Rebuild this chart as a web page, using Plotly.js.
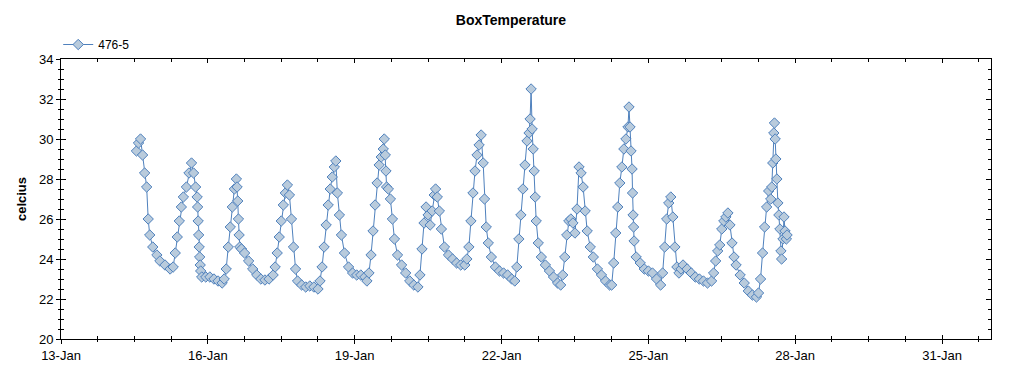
<!DOCTYPE html>
<html>
<head>
<meta charset="utf-8">
<script src="https://cdn.plot.ly/plotly-3.0.1.min.js"></script>
<style>
html,body{margin:0;padding:0;background:#fff;}
#chart{width:1024px;height:375px;}
</style>
</head>
<body>
<div id="chart"></div>
<script>
var seriesName = '476-5';
var chartTitle = 'BoxTemperature';
var yTitle = 'celcius';

var times = [
'2015-01-14 13:00','2015-01-14 14:00','2015-01-14 15:00','2015-01-14 16:00','2015-01-14 17:00','2015-01-14 18:00',
'2015-01-14 18:45','2015-01-14 19:30','2015-01-14 21:00','2015-01-14 23:00','2015-01-15 00:30','2015-01-15 03:00',
'2015-01-15 05:30','2015-01-15 07:00','2015-01-15 08:00','2015-01-15 09:00','2015-01-15 10:00','2015-01-15 11:00',
'2015-01-15 12:00','2015-01-15 13:30','2015-01-15 14:45','2015-01-15 16:00','2015-01-15 17:00','2015-01-15 18:00',
'2015-01-15 18:45','2015-01-15 19:00','2015-01-15 19:15','2015-01-15 19:30','2015-01-15 19:45','2015-01-15 20:00',
'2015-01-15 20:15','2015-01-15 20:30','2015-01-15 21:00','2015-01-15 23:00','2015-01-16 01:00','2015-01-16 03:00',
'2015-01-16 05:00','2015-01-16 07:00','2015-01-16 08:00','2015-01-16 09:00','2015-01-16 10:00','2015-01-16 11:00',
'2015-01-16 12:00','2015-01-16 13:00','2015-01-16 14:00','2015-01-16 14:20','2015-01-16 14:40','2015-01-16 15:00',
'2015-01-16 15:20','2015-01-16 15:40','2015-01-16 16:30','2015-01-16 18:00','2015-01-16 20:00','2015-01-16 22:00',
'2015-01-17 00:00','2015-01-17 02:00','2015-01-17 04:00','2015-01-17 06:00','2015-01-17 08:00','2015-01-17 09:00',
'2015-01-17 10:00','2015-01-17 11:00','2015-01-17 12:00','2015-01-17 13:00','2015-01-17 14:00','2015-01-17 15:00',
'2015-01-17 16:00','2015-01-17 17:00','2015-01-17 18:00','2015-01-17 19:00','2015-01-17 20:00','2015-01-17 22:00',
'2015-01-18 00:00','2015-01-18 02:00','2015-01-18 04:00','2015-01-18 06:00','2015-01-18 07:00','2015-01-18 08:00',
'2015-01-18 09:00','2015-01-18 10:00','2015-01-18 11:00','2015-01-18 12:00','2015-01-18 13:00','2015-01-18 14:00',
'2015-01-18 14:45','2015-01-18 15:30','2015-01-18 16:30','2015-01-18 17:30','2015-01-18 19:00','2015-01-18 21:00',
'2015-01-18 23:00','2015-01-19 01:00','2015-01-19 03:00','2015-01-19 05:00','2015-01-19 06:00','2015-01-19 07:00',
'2015-01-19 08:00','2015-01-19 09:00','2015-01-19 10:00','2015-01-19 11:00','2015-01-19 12:00','2015-01-19 13:00',
'2015-01-19 14:00','2015-01-19 14:30','2015-01-19 15:00','2015-01-19 15:20','2015-01-19 15:40','2015-01-19 16:30',
'2015-01-19 17:30','2015-01-19 18:30','2015-01-19 19:30','2015-01-19 21:00','2015-01-19 23:00','2015-01-20 01:00',
'2015-01-20 03:00','2015-01-20 05:00','2015-01-20 07:00','2015-01-20 08:00','2015-01-20 09:00','2015-01-20 10:00',
'2015-01-20 11:00','2015-01-20 12:00','2015-01-20 13:00','2015-01-20 14:00','2015-01-20 15:00','2015-01-20 15:40',
'2015-01-20 16:30','2015-01-20 17:30','2015-01-20 18:30','2015-01-20 20:00','2015-01-20 22:00','2015-01-21 00:00',
'2015-01-21 02:00','2015-01-21 04:00','2015-01-21 06:00','2015-01-21 07:00','2015-01-21 08:00','2015-01-21 09:00',
'2015-01-21 10:00','2015-01-21 11:00','2015-01-21 12:00','2015-01-21 13:00','2015-01-21 14:00','2015-01-21 15:00',
'2015-01-21 15:40','2015-01-21 16:30','2015-01-21 17:30','2015-01-21 19:00','2015-01-21 21:00','2015-01-21 23:00',
'2015-01-22 01:00','2015-01-22 03:00','2015-01-22 05:00','2015-01-22 06:30','2015-01-22 07:30','2015-01-22 08:30',
'2015-01-22 09:30','2015-01-22 10:30','2015-01-22 11:30','2015-01-22 12:30','2015-01-22 13:30','2015-01-22 14:00',
'2015-01-22 14:30','2015-01-22 15:00','2015-01-22 15:30','2015-01-22 16:00','2015-01-22 16:30','2015-01-22 17:00',
'2015-01-22 18:00','2015-01-22 19:30','2015-01-22 21:30','2015-01-22 23:30','2015-01-23 01:30','2015-01-23 03:30',
'2015-01-23 05:00','2015-01-23 06:00','2015-01-23 07:00','2015-01-23 08:00','2015-01-23 09:00','2015-01-23 10:00',
'2015-01-23 11:00','2015-01-23 12:00','2015-01-23 13:00','2015-01-23 14:00','2015-01-23 15:00','2015-01-23 16:00',
'2015-01-23 17:00','2015-01-23 18:00','2015-01-23 19:30','2015-01-23 21:00','2015-01-23 23:00','2015-01-24 01:00',
'2015-01-24 03:00','2015-01-24 05:00','2015-01-24 06:00','2015-01-24 07:00','2015-01-24 08:00','2015-01-24 09:00',
'2015-01-24 10:00','2015-01-24 11:00','2015-01-24 12:00','2015-01-24 13:00','2015-01-24 14:00','2015-01-24 14:30',
'2015-01-24 15:00','2015-01-24 15:30','2015-01-24 16:00','2015-01-24 16:15','2015-01-24 16:30','2015-01-24 16:45',
'2015-01-24 17:00','2015-01-24 18:00','2015-01-24 20:00','2015-01-24 22:00','2015-01-25 00:00','2015-01-25 02:00',
'2015-01-25 04:00','2015-01-25 06:00','2015-01-25 07:00','2015-01-25 08:00','2015-01-25 09:00','2015-01-25 10:00',
'2015-01-25 11:00','2015-01-25 12:00','2015-01-25 13:00','2015-01-25 14:00','2015-01-25 15:00','2015-01-25 16:00',
'2015-01-25 17:00','2015-01-25 19:00','2015-01-25 21:00','2015-01-25 23:00','2015-01-26 01:00','2015-01-26 03:00',
'2015-01-26 05:00','2015-01-26 07:00','2015-01-26 08:00','2015-01-26 09:00','2015-01-26 10:00','2015-01-26 11:00',
'2015-01-26 12:00','2015-01-26 13:00','2015-01-26 14:00','2015-01-26 15:00','2015-01-26 16:00','2015-01-26 17:00',
'2015-01-26 18:00','2015-01-26 19:00','2015-01-26 21:00','2015-01-26 23:00','2015-01-27 01:00','2015-01-27 03:00',
'2015-01-27 05:00','2015-01-27 06:00','2015-01-27 07:00','2015-01-27 08:00','2015-01-27 09:00','2015-01-27 10:00',
'2015-01-27 11:00','2015-01-27 12:00','2015-01-27 12:30','2015-01-27 13:00','2015-01-27 13:30','2015-01-27 13:50',
'2015-01-27 14:10','2015-01-27 14:30','2015-01-27 15:00','2015-01-27 15:30','2015-01-27 16:00','2015-01-27 16:30',
'2015-01-27 17:00','2015-01-27 17:20','2015-01-27 18:00','2015-01-27 18:30','2015-01-27 19:00','2015-01-27 19:40',
'2015-01-27 20:00'
];

var temps = [
29.4,29.8,30.0,29.2,28.3,27.6,
26.0,25.2,24.6,24.2,23.9,23.7,
23.5,23.6,24.3,25.1,25.9,26.6,
27.1,27.6,28.3,28.8,28.3,27.6,
27.1,26.6,25.9,25.2,24.6,24.1,
23.7,23.4,23.1,23.1,23.1,23.0,
22.9,22.8,23.0,23.5,24.6,25.6,
26.6,27.5,28.0,27.6,26.9,26.0,
25.2,24.6,24.5,24.3,23.9,23.5,
23.2,23.0,22.95,23.0,23.2,23.6,
24.3,25.1,25.9,26.7,27.3,27.7,
27.2,26.0,24.6,23.5,22.9,22.7,
22.6,22.65,22.6,22.5,22.9,23.6,
24.6,25.7,26.7,27.5,28.1,28.6,
28.9,27.3,26.2,25.2,24.3,23.6,
23.3,23.2,23.2,23.1,22.9,23.3,
24.2,25.4,26.7,27.8,28.7,29.1,
29.5,30.0,29.2,28.4,27.6,27.5,
27.0,26.0,25.0,24.2,23.7,23.3,
22.9,22.7,22.6,23.2,24.5,25.8,
26.6,26.2,25.7,26.4,27.2,27.5,
27.1,26.4,25.5,24.6,24.2,24.0,
23.8,23.7,23.7,24.0,24.6,25.9,
27.3,28.4,29.2,29.7,30.2,28.8,
27.0,25.6,24.8,24.1,23.6,23.4,
23.3,23.2,23.0,22.9,23.6,25.0,
26.2,27.5,28.7,29.9,30.3,31.0,
32.5,30.5,29.5,28.4,27.1,25.9,
24.8,24.1,23.7,23.4,23.1,22.8,
22.7,23.2,24.1,25.2,25.9,26.0,
25.8,25.3,26.5,28.6,28.3,27.6,
26.4,25.4,24.6,24.1,23.5,23.2,
22.9,22.7,22.7,23.8,25.3,26.6,
27.8,28.6,29.5,30.0,30.6,31.6,
30.6,29.4,28.5,27.3,26.2,25.6,
24.9,24.1,23.8,23.5,23.4,23.3,
23.0,22.7,23.3,24.6,26.0,26.8,
27.1,26.1,24.6,23.6,23.3,23.5,
23.7,23.5,23.3,23.1,23.0,22.9,
22.8,22.9,23.3,23.9,24.4,24.7,
25.5,25.9,26.1,26.3,25.7,24.8,
24.1,23.7,23.2,22.8,22.4,22.2,
22.1,22.3,23.0,24.3,25.6,26.6,
27.4,27.0,27.6,28.8,30.3,30.8,
30.0,29.0,28.0,26.8,26.2,25.5,
24.4,24.0,25.0,26.1,25.4,25.0,
25.2
];

var xRange = ['2015-01-13 00:00', '2015-02-01 00:00'];
var yRange = [20, 34];

var lineBlue = '#4f81bd';
var markFill = '#b9cbdc';
var tickFont = {family: 'Liberation Sans, Arial, sans-serif', size: 13, color: '#000'};

var trace = {
  x: times, y: temps, name: seriesName, type: 'scatter', mode: 'lines+markers',
  line: {color: lineBlue, width: 1},
  marker: {symbol: 'diamond', size: 8, color: markFill, line: {color: lineBlue, width: 1}}
};
// empty helper trace so the overlay axes (inner tick marks) are drawn
var helper = {
  x: [], y: [], xaxis: 'x2', yaxis: 'y2', type: 'scatter', mode: 'markers',
  showlegend: false, hoverinfo: 'skip'
};

var DAY = 86400000;
var commonX = {
  type: 'date', range: xRange, tick0: '2015-01-13', dtick: 3 * DAY, tickformat: '%d-%b',
  showgrid: false, zeroline: false, linecolor: '#000', linewidth: 1, tickcolor: '#000', tickwidth: 1
};
var commonY = {
  range: yRange, tick0: 20, dtick: 2, showgrid: false, zeroline: false,
  linecolor: '#000', linewidth: 1, tickcolor: '#000', tickwidth: 1
};

var layout = {
  width: 1024, height: 375,
  paper_bgcolor: '#fff', plot_bgcolor: '#fff',
  margin: {l: 61, r: 33, t: 59, b: 36, pad: 0},
  font: tickFont,
  title: {text: '<b>' + chartTitle + '</b>', x: 0.499, xanchor: 'center', y: 0.947, yanchor: 'middle', yref: 'container',
          font: {family: 'Liberation Sans, Arial, sans-serif', size: 14, color: '#000'}},
  showlegend: true,
  legend: {x: -0.003, xanchor: 'left', y: 1.0, yanchor: 'bottom', bgcolor: 'rgba(0,0,0,0)',
           font: {family: 'Liberation Sans, Arial, sans-serif', size: 12, color: '#000'}},
  xaxis: Object.assign({}, commonX, {
    showline: true, mirror: true, ticks: 'outside', ticklen: 4, showticklabels: true, tickfont: tickFont,
    minor: {dtick: 0.75 * DAY, tick0: '2015-01-13', ticks: 'outside', ticklen: 2, tickcolor: '#000', showgrid: false}
  }),
  xaxis2: Object.assign({}, commonX, {
    overlaying: 'x', anchor: 'y', side: 'bottom', showline: false, mirror: 'ticks', ticks: 'inside', ticklen: 4,
    showticklabels: false,
    minor: {dtick: 0.75 * DAY, tick0: '2015-01-13', ticks: 'inside', ticklen: 3, tickcolor: '#000', showgrid: false}
  }),
  yaxis: Object.assign({}, commonY, {
    showline: true, mirror: true, ticks: 'outside', ticklen: 4, showticklabels: true, tickfont: tickFont,
    title: {text: '<b>' + yTitle + '</b>', standoff: 9, font: {family: 'Liberation Sans, Arial, sans-serif', size: 13, color: '#000'}},
    minor: {dtick: 0.5, ticks: 'outside', ticklen: 2, tickcolor: '#000', showgrid: false}
  }),
  yaxis2: Object.assign({}, commonY, {
    overlaying: 'y', anchor: 'x', side: 'left', showline: false, mirror: 'ticks', ticks: 'inside', ticklen: 5,
    showticklabels: false,
    minor: {dtick: 0.5, ticks: 'inside', ticklen: 3, tickcolor: '#000', showgrid: false}
  })
};

Plotly.newPlot('chart', [trace, helper], layout, {displayModeBar: false, staticPlot: true});
</script>
</body>
</html>
